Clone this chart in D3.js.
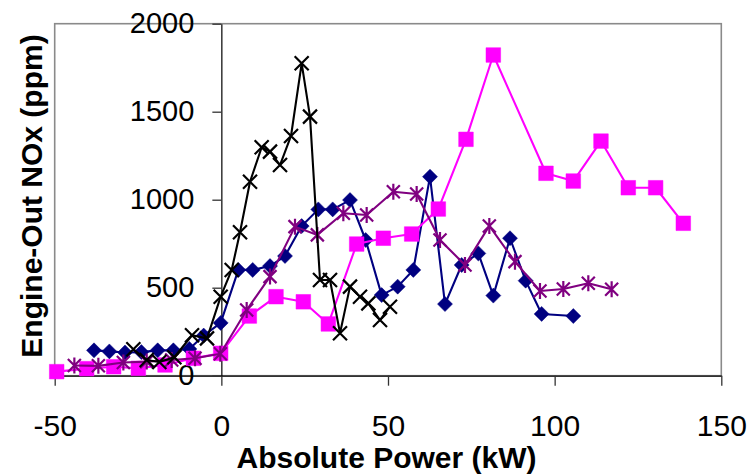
<!DOCTYPE html>
<html>
<head>
<meta charset="utf-8">
<script src="https://cdn.jsdelivr.net/npm/d3@7"></script>
<style>
  html, body { margin: 0; padding: 0; background: #fff; }
  svg { display: block; font-family: "Liberation Sans", Arial, sans-serif; }
</style>
</head>
<body>
<svg id="chart" width="754" height="475"></svg>
<script>
// Engine-out NOx against absolute power, four test series
const powerNavy = [-38.2, -33.6, -28.9, -24.0, -19.1, -14.4, -9.6, -5.3, -0.2, 5.1, 9.4, 14.6, 19.1, 24.1, 29.1, 33.4, 38.6, 43.3, 48.1, 52.9, 57.6, 62.6, 67.1, 72.1, 77.1, 81.6, 86.6, 91.3, 96.1, 105.6];
const noxNavy   = [144, 138, 132, 134, 144, 144, 152, 228, 300, 601, 601, 623, 680, 850, 945, 945, 998, 771, 458, 506, 601, 1131, 407, 629, 695, 455, 781, 540, 351, 339];

const powerMagenta = [-49.4, -40.4, -32.3, -24.9, -16.9, -8.4, -0.2, 8.4, 16.4, 24.6, 32.1, 40.6, 48.6, 57.1, 65.1, 73.4, 81.6, 97.4, 105.6, 113.9, 122.1, 130.3, 138.6];
const noxMagenta   = [23, 40, 51, 42, 61, 99, 127, 339, 449, 420, 294, 748, 781, 805, 947, 1343, 1822, 1150, 1106, 1333, 1068, 1068, 866];

const powerPurple = [-44.1, -36.9, -29.4, -22.4, -14.9, -7.9, -0.3, 7.6, 14.6, 22.1, 28.8, 36.6, 43.6, 51.6, 58.6, 65.6, 73.1, 80.4, 88.1, 95.6, 102.6, 110.1, 117.1];
const noxPurple   = [58, 56, 75, 80, 89, 99, 125, 373, 563, 847, 800, 923, 913, 1045, 1032, 771, 629, 851, 648, 481, 493, 525, 491];

const powerBlack = [-26.4, -22.4, -18.6, -14.1, -8.8, -4.3, -0.2, 3.1, 5.6, 8.6, 12.1, 14.6, 17.6, 20.9, 24.1, 26.6, 29.6, 32.6, 35.6, 38.6, 41.6, 44.1, 47.6, 50.6];
const noxBlack   = [150, 89, 78, 105, 230, 212, 449, 601, 815, 1102, 1298, 1273, 1197, 1362, 1775, 1472, 544, 544, 241, 506, 449, 411, 316, 392];

const xTicks = [-50, 0, 50, 100, 150];
const yTicks = [0, 500, 1000, 1500, 2000];

const xLabel = "Absolute Power (kW)";
const yLabel = "Engine-Out NOx (ppm)";

const series = [
  { x: powerNavy,    y: noxNavy,    color: "#000080", marker: "diamond" },
  { x: powerMagenta, y: noxMagenta, color: "#FF00FF", marker: "square" },
  { x: powerPurple,  y: noxPurple,  color: "#800080", marker: "star" },
  { x: powerBlack,   y: noxBlack,   color: "#000000", marker: "cross" }
];

const svg = d3.select("#chart");
const plot = { left: 54.7, right: 721.3, top: 23.7, bottom: 375.7 };

const x = d3.scaleLinear().domain([-50, 150]).range([plot.left, plot.right]);
const y = d3.scaleLinear().domain([0, 2000]).range([plot.bottom, plot.top]);

// plot area frame
svg.append("rect")
  .attr("x", plot.left).attr("y", plot.top)
  .attr("width", plot.right - plot.left).attr("height", plot.bottom - plot.top)
  .attr("fill", "none").attr("stroke", "#8a8a8a").attr("stroke-width", 1.6);

// horizontal axis along zero NOx
const gx = svg.append("g")
  .attr("transform", `translate(0,${y(0)})`)
  .call(d3.axisBottom(x).tickValues(xTicks).tickSize(10).tickSizeOuter(0).tickPadding(29).tickFormat(d3.format("d")));
gx.select(".domain").attr("stroke", "#333").attr("stroke-width", 1.8);
gx.selectAll(".tick line").attr("stroke", "#333").attr("stroke-width", 1.3);
gx.selectAll(".tick text").attr("font-size", 30).attr("fill", "#000")
  .attr("font-family", "'Liberation Sans', Arial, sans-serif")
  .text(d => d < 0 ? "-" + Math.abs(d) : d);

// vertical axis crossing at zero power
const gy = svg.append("g")
  .attr("transform", `translate(${x(0)},0)`)
  .call(d3.axisLeft(y).tickValues(yTicks).tickSize(9).tickSizeOuter(0).tickPadding(18).tickFormat(d3.format("d")));
gy.select(".domain").attr("stroke", "#000").attr("stroke-width", 1.2);
gy.selectAll(".tick line").attr("stroke", "#333").attr("stroke-width", 1.3);
gy.selectAll(".tick text").attr("font-size", 29).attr("fill", "#000")
  .attr("font-family", "'Liberation Sans', Arial, sans-serif");

// axis titles
svg.append("text")
  .attr("x", 386.5).attr("y", 468)
  .attr("text-anchor", "middle")
  .attr("font-size", 30).attr("font-weight", "bold")
  .text(xLabel);

svg.append("text")
  .attr("transform", "translate(41.5,196) rotate(-90)")
  .attr("text-anchor", "middle")
  .attr("font-size", 30).attr("font-weight", "bold")
  .text(yLabel);

// marker shapes centred on the origin
const markerPath = {
  diamond: "M0,-7.5L7.5,0L0,7.5L-7.5,0Z",
  square:  "M-7.3,-7.3H7.3V7.3H-7.3Z",
  star:    "M-6.5,-6.5L6.5,6.5M-6.5,6.5L6.5,-6.5M0,-8V8",
  cross:   "M-7,-7L7,7M-7,7L7,-7"
};

const line = d3.line().x(d => x(d[0])).y(d => y(d[1]));

series.forEach(s => {
  const pts = s.x.map((v, i) => [v, s.y[i]]);
  const g = svg.append("g");
  g.append("path")
    .datum(pts)
    .attr("d", line)
    .attr("fill", "none")
    .attr("stroke", s.color)
    .attr("stroke-width", 2.1)
    .attr("stroke-linejoin", "round");
  const filled = s.marker === "diamond" || s.marker === "square";
  g.selectAll("path.marker")
    .data(pts)
    .join("path")
    .attr("class", "marker")
    .attr("transform", d => `translate(${x(d[0])},${y(d[1])})`)
    .attr("d", markerPath[s.marker])
    .attr("fill", filled ? s.color : "none")
    .attr("stroke", s.color)
    .attr("stroke-width", filled ? 0.5 : 2.2);
});
</script>
</body>
</html>
